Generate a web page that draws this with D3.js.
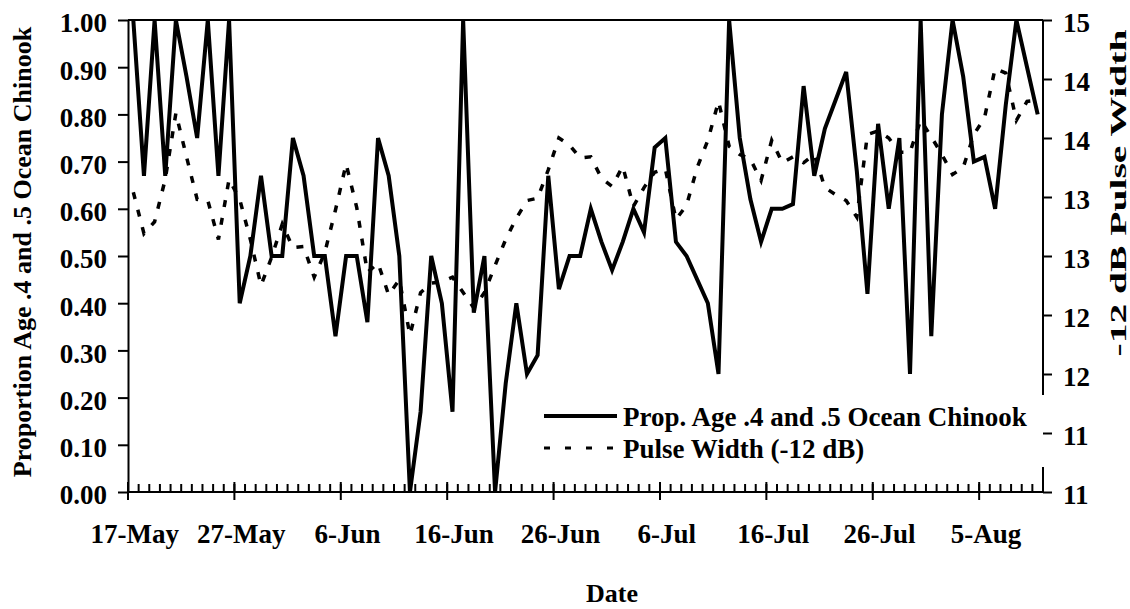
<!DOCTYPE html>
<html><head><meta charset="utf-8">
<script src="https://cdn.jsdelivr.net/npm/d3@7"></script>
<style>
body{margin:0;background:#fff}
svg{display:block}
text{font-family:"Liberation Serif","Times New Roman",serif;font-weight:bold;fill:#000}
</style>
</head><body>
<svg id="chart" width="1130" height="609"></svg>
<script>
// ---- data ----
const startDate = "2000-05-17";   // first sampling day (17-May)
const propAge = [
  1.00,0.67,1.00,0.67,1.00,0.88,0.75,1.00,0.67,1.00,
  0.40,0.50,0.67,0.50,0.50,0.75,0.67,0.50,0.50,0.33,
  0.50,0.50,0.36,0.75,0.67,0.50,0.00,0.17,0.50,0.40,
  0.17,1.00,0.38,0.50,0.00,0.23,0.40,0.25,0.29,0.67,
  0.43,0.50,0.50,0.60,0.53,0.47,0.53,0.60,0.55,0.73,
  0.75,0.53,0.50,0.45,0.40,0.25,1.00,0.75,0.62,0.53,
  0.60,0.60,0.61,0.86,0.67,0.77,0.83,0.89,0.68,0.42,
  0.78,0.60,0.75,0.25,1.00,0.33,0.80,1.00,0.88,0.70,
  0.71,0.60,0.82,1.00,0.90,0.80
];
const pulseWidth = [
  13.54,13.19,13.29,13.65,14.21,13.84,13.48,13.47,13.14,13.65,
  13.48,13.14,12.75,12.99,13.27,13.07,13.08,12.82,13.03,13.39,
  13.78,13.41,12.86,12.94,12.67,12.80,12.33,12.69,12.77,12.78,
  12.82,12.69,12.56,12.69,12.92,13.14,13.32,13.47,13.49,13.73,
  14.00,13.94,13.83,13.84,13.66,13.59,13.76,13.42,13.58,13.71,
  13.74,13.31,13.43,13.75,13.98,14.31,13.93,13.86,13.82,13.64,
  13.98,13.79,13.84,13.79,13.86,13.58,13.52,13.47,13.33,14.03,
  14.06,14.00,13.88,13.88,14.15,14.01,13.86,13.69,13.75,14.03,
  14.17,14.59,14.55,14.15,14.31,14.32
];
const leftTickValues = [0,0.1,0.2,0.3,0.4,0.5,0.6,0.7,0.8,0.9,1.0];
const rightTickValues = [11,11.5,12,12.5,13,13.5,14,14.5,15];
const rightTickLabels = ["11","11","12","12","13","13","14","14","15"];
const seriesNames = ["Prop. Age .4 and .5 Ocean Chinook","Pulse Width (-12 dB)"];
const leftTitle = "Proportion Age .4 and .5 Ocean Chinook";
const rightTitle = "-12 dB Pulse Width";
const xTitle = "Date";

// ---- layout ----
const L = 128, R = 1043, T = 20, B = 492;
const svg = d3.select("#chart");
const t0 = d3.utcParse("%Y-%m-%d")(startDate);
const days = d3.utcDay.range(t0, d3.utcDay.offset(t0, propAge.length));
const tEnd = d3.utcDay.offset(t0, propAge.length);
const x = d3.scaleUtc().domain([t0, tEnd]).range([L, R]);
const yL = d3.scaleLinear().domain([0, 1]).range([B, T]);
const yR = d3.scaleLinear().domain([11, 15]).range([B, T]);
const mid = d => d3.utcHour.offset(d, 12);

// clip
svg.append("defs").append("clipPath").attr("id","plotclip")
  .append("rect").attr("x", L).attr("y", T).attr("width", R - L).attr("height", B - T);

// series
const gLines = svg.append("g").attr("clip-path","url(#plotclip)");
const linePulse = d3.line().x((d,i)=>x(mid(days[i]))).y(d=>yR(d));
const lineProp = d3.line().x((d,i)=>x(mid(days[i]))).y(d=>yL(d));
gLines.append("path").attr("d", linePulse(pulseWidth))
  .attr("fill","none").attr("stroke","#000").attr("stroke-width",3.5)
  .attr("stroke-dasharray","7,11");
gLines.append("path").attr("d", lineProp(propAge))
  .attr("fill","none").attr("stroke","#000").attr("stroke-width",4)
  .attr("stroke-linejoin","miter").attr("stroke-miterlimit",4);

// frame: top line
svg.append("line").attr("x1",L).attr("x2",R).attr("y1",T).attr("y2",T)
  .attr("stroke","#000").attr("stroke-width",2);

// left axis
const gL = svg.append("g").attr("transform",`translate(${L},0)`)
  .call(d3.axisLeft(yL).tickValues(leftTickValues).tickFormat(d3.format(".2f"))
    .tickSize(10).tickSizeOuter(0).tickPadding(11));
gL.attr("font-family",null);
gL.select(".domain").attr("stroke-width",2);
gL.selectAll(".tick line").attr("stroke-width",2);
gL.selectAll(".tick text").attr("font-size",27).attr("dy","0.44em");

// right axis line (drawn before legend box so the box hides part of it)
svg.append("line").attr("x1",R).attr("x2",R).attr("y1",T).attr("y2",B)
  .attr("stroke","#000").attr("stroke-width",2);

// bottom axis: minor daily ticks (inside), major every 10 days (crossing)
const gB = svg.append("g");
gB.append("line").attr("x1",L).attr("x2",R).attr("y1",B).attr("y2",B)
  .attr("stroke","#000").attr("stroke-width",2);
const minor = d3.utcDay.range(t0, d3.utcDay.offset(tEnd,1));
gB.selectAll("line.minor").data(minor).join("line").attr("class","minor")
  .attr("x1",d=>x(d)).attr("x2",d=>x(d)).attr("y1",B).attr("y2",B-8)
  .attr("stroke","#000").attr("stroke-width",2);
const major = d3.utcDay.range(t0, tEnd, 10);
gB.selectAll("line.major").data(major).join("line").attr("class","major")
  .attr("x1",d=>x(d)).attr("x2",d=>x(d)).attr("y1",B-10).attr("y2",B+8)
  .attr("stroke","#000").attr("stroke-width",2);
const fmt = d3.utcFormat("%-d-%b");
gB.selectAll("text.xl").data(major).join("text").attr("class","xl")
  .attr("x",d=>x(mid(d))+1.5).attr("y",543).attr("text-anchor","middle")
  .attr("font-size",27).text(d=>fmt(d));

// titles
svg.append("text").attr("transform","translate(31,252) rotate(-90)")
  .attr("text-anchor","middle").attr("font-size",26).text(leftTitle);
svg.append("text").attr("transform","translate(1126,193) rotate(-90)")
  .attr("text-anchor","middle").attr("font-size",24)
  .attr("textLength",327).attr("lengthAdjust","spacingAndGlyphs").text(rightTitle);
svg.append("text").attr("x",612).attr("y",602).attr("text-anchor","middle")
  .attr("font-size",26).text(xTitle);

// legend
const lg = svg.append("g");
lg.append("rect").attr("x",540).attr("y",395).attr("width",504.5).attr("height",72).attr("fill","#fff");
const legendRows = [
  {name: seriesNames[0], dash: null, w: 4, y: 416},
  {name: seriesNames[1], dash: "6,15", w: 3, y: 448}
];
legendRows.forEach(r => {
  lg.append("line").attr("x1",544).attr("x2",617).attr("y1",r.y).attr("y2",r.y)
    .attr("stroke","#000").attr("stroke-width",r.w).attr("stroke-dasharray",r.dash);
  lg.append("text").attr("x",623).attr("y",r.y+9.5).attr("font-size",27).text(r.name);
});

// right axis ticks and labels (on top of legend box)
const gR = svg.append("g").attr("transform",`translate(${R},0)`)
  .call(d3.axisRight(yR).tickValues(rightTickValues).tickFormat((d,i)=>rightTickLabels[i])
    .tickSize(9).tickSizeOuter(0).tickPadding(11));
gR.attr("font-family",null);
gR.select(".domain").remove();
gR.selectAll(".tick line").attr("stroke-width",2);
gR.selectAll(".tick text").attr("font-size",27).attr("dy","0.44em");
</script>
</body></html>
